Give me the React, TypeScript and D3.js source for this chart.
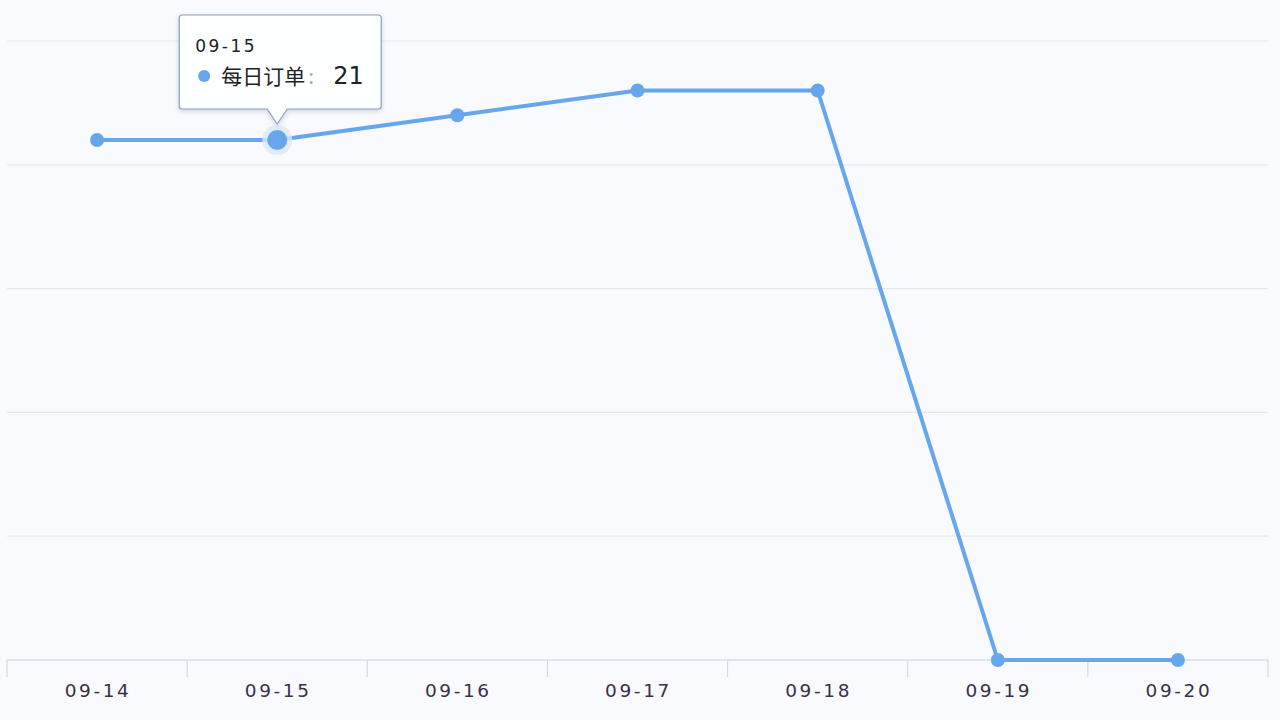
import React from "react";
import * as d3 from "d3";

const categories = ["09-14", "09-15", "09-16", "09-17", "09-18", "09-19", "09-20"];
const dailyOrders = [21, 21, 22, 23, 23, 0, 0];
const yTicks = [0, 5, 10, 15, 20, 25];
const seriesName = "每日订单";
const activeIndex = 1;

const W = 1280;
const H = 720;
const margin = { left: 7, right: 12, top: 41, bottom: 60 };

export default function App() {
  const x = d3
    .scaleBand<string>()
    .domain(categories)
    .range([margin.left, W - margin.right])
    .paddingInner(0)
    .paddingOuter(0);
  const y = d3.scaleLinear().domain([0, 25]).range([H - margin.bottom, margin.top]);
  const cx = (c: string) => (x(c) as number) + x.bandwidth() / 2;
  const line = d3
    .line<number>()
    .x((_, i) => cx(categories[i]))
    .y((d) => y(d));
  const color = "#66a6ec";
  const ax = cx(categories[activeIndex]);
  const ay = y(dailyOrders[activeIndex]);
  const tipW = 202;
  const tipH = 94;
  const tipX = ax - 98;
  const tipY = 15;
  const font = "'DejaVu Sans', Verdana, sans-serif";
  return (
    <svg
      width={W}
      height={H}
      style={{ position: "absolute", left: 0, top: 0, background: "#f9fafd" }}
    >
      <defs>
        <filter id="sh" x="-20%" y="-20%" width="140%" height="150%">
          <feDropShadow dx="0" dy="2" stdDeviation="2.5" floodColor="#8090a8" floodOpacity="0.35" />
        </filter>
      </defs>
      {yTicks.slice(1).map((t) => (
        <line key={t} x1={margin.left} x2={W - margin.right} y1={y(t)} y2={y(t)} stroke="#e4e8f0" strokeWidth={1.2} />
      ))}
      <line x1={margin.left} x2={W - margin.right} y1={y(0)} y2={y(0)} stroke="#c8d2e2" strokeWidth={1.2} />
      {categories.map((c) => (
        <line key={c} x1={x(c) as number} x2={x(c) as number} y1={y(0)} y2={y(0) + 17} stroke="#d2dae6" strokeWidth={1.2} />
      ))}
      <line x1={W - margin.right} x2={W - margin.right} y1={y(0)} y2={y(0) + 17} stroke="#d2dae6" strokeWidth={1.2} />
      {categories.map((c) => (
        <text
          key={c}
          x={cx(c) + 1}
          y={y(0) + 37}
          textAnchor="middle"
          fontFamily={font}
          fontSize={18.5}
          letterSpacing={2.6}
          fill="#3a3048"
        >
          {c}
        </text>
      ))}
      <path d={line(dailyOrders) || ""} fill="none" stroke={color} strokeWidth={4} strokeLinejoin="round" />
      {dailyOrders.map((v, i) =>
        i === activeIndex ? null : <circle key={i} cx={cx(categories[i])} cy={y(v)} r={7} fill={color} />
      )}
      <circle cx={ax} cy={ay} r={15} fill="#dbe8f8" opacity={0.8} />
      <circle cx={ax} cy={ay} r={10} fill={color} />
      <g filter="url(#sh)">
        <path
          d={`M${tipX + 3},${tipY} H${tipX + tipW - 3} Q${tipX + tipW},${tipY} ${tipX + tipW},${tipY + 3} V${tipY + tipH - 3} Q${tipX + tipW},${tipY + tipH} ${tipX + tipW - 3},${tipY + tipH} H${ax + 10} L${ax},${ay - 16} L${ax - 10},${tipY + tipH} H${tipX + 3} Q${tipX},${tipY + tipH} ${tipX},${tipY + tipH - 3} V${tipY + 3} Q${tipX},${tipY} ${tipX + 3},${tipY} Z`}
          fill="#fdfeff"
          stroke="#8ca0bc"
          strokeWidth={1.2}
        />
      </g>
      <text x={tipX + 16} y={tipY + 37} fontFamily={font} fontSize={17} letterSpacing={2.5} fill="#222">
        {categories[activeIndex]}
      </text>
      <circle cx={tipX + 25} cy={tipY + 61} r={6} fill={color} />
      <text x={tipX + 42} y={tipY + 69} fontFamily="'Noto Sans CJK SC', sans-serif" fontSize={21} fill="#222">
        {seriesName}
        <tspan fill="#aaa" dx={3}>:</tspan>
        <tspan x={tipX + 154} fontFamily={font} fontSize={24}>{dailyOrders[activeIndex]}</tspan>
      </text>
    </svg>
  );
}
